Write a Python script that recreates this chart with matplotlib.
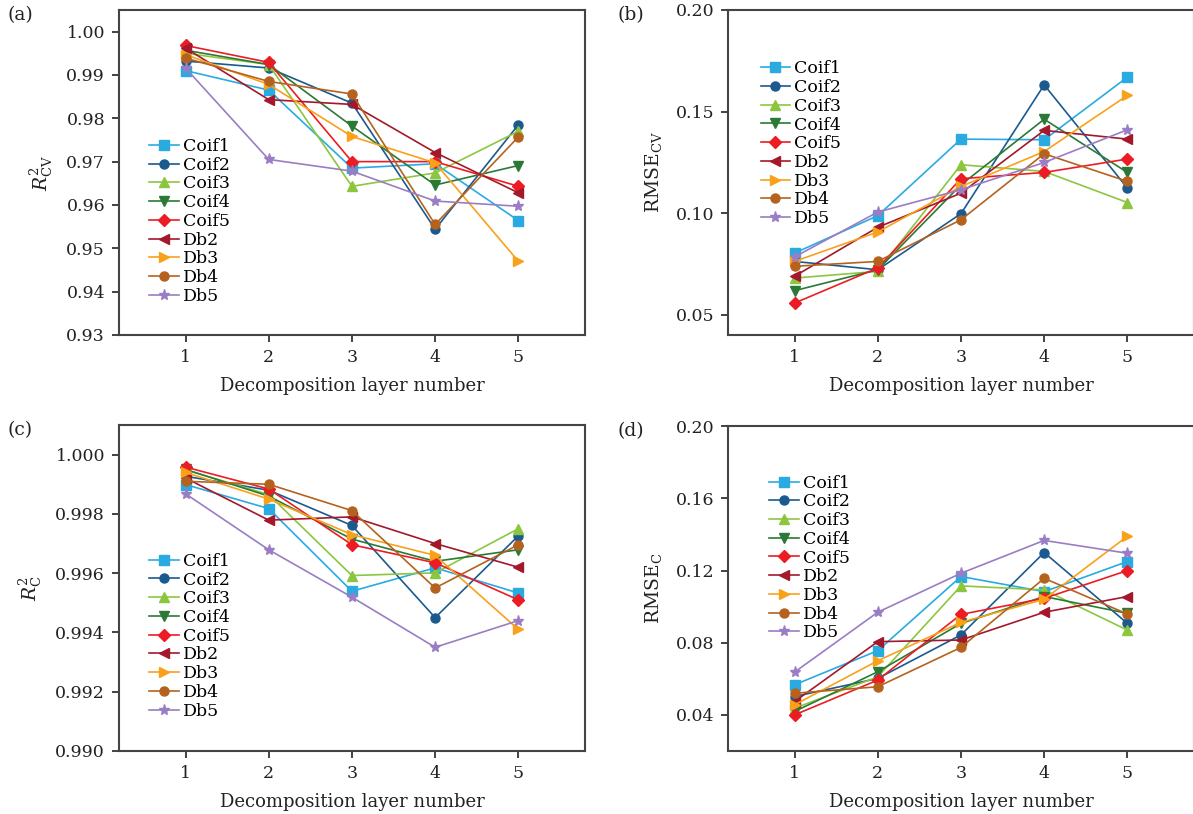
import matplotlib
matplotlib.use('Agg')
import matplotlib.pyplot as plt

plt.rcParams['font.family'] = ['DejaVu Serif']
plt.rcParams['mathtext.fontset'] = 'dejavuserif'

layers = [1, 2, 3, 4, 5]
names = ['Coif1', 'Coif2', 'Coif3', 'Coif4', 'Coif5', 'Db2', 'Db3', 'Db4', 'Db5']
colors = ['#29abe2', '#1b5a8e', '#8cc63f', '#2a7a35', '#ec1c24',
          '#a3182b', '#f9a11b', '#b5621e', '#9a7dc4']
markers = ['s', 'o', '^', 'v', 'D', '<', '>', 'o', '*']

# (a) R2_CV
r2cv = [
    [0.9910, 0.9865, 0.9685, 0.9695, 0.9564],
    [0.9932, 0.9916, 0.9835, 0.9544, 0.9785],
    [0.9950, 0.9924, 0.9643, 0.9674, 0.9770],
    [0.9957, 0.9924, 0.9782, 0.9646, 0.9691],
    [0.9968, 0.9929, 0.9700, 0.9700, 0.9643],
    [0.9962, 0.9843, 0.9832, 0.9721, 0.9628],
    [0.9947, 0.9878, 0.9758, 0.9697, 0.9470],
    [0.9939, 0.9885, 0.9856, 0.9555, 0.9757],
    [0.9916, 0.9705, 0.9678, 0.9609, 0.9597],
]
# (b) RMSE_CV
rmsecv = [
    [0.0803, 0.0987, 0.1364, 0.1361, 0.1669],
    [0.0762, 0.0721, 0.0997, 0.1631, 0.1123],
    [0.0680, 0.0713, 0.1238, 0.1205, 0.1052],
    [0.0618, 0.0721, 0.1139, 0.1462, 0.1200],
    [0.0557, 0.0730, 0.1169, 0.1200, 0.1266],
    [0.0689, 0.0930, 0.1098, 0.1407, 0.1364],
    [0.0762, 0.0907, 0.1131, 0.1303, 0.1579],
    [0.0738, 0.0762, 0.0967, 0.1292, 0.1156],
    [0.0784, 0.1005, 0.1115, 0.1249, 0.1410],
]
# (c) R2_C
r2c = [
    [0.99899, 0.99818, 0.99539, 0.99618, 0.99533],
    [0.99927, 0.99880, 0.99761, 0.99450, 0.99726],
    [0.99949, 0.99865, 0.99592, 0.99601, 0.99750],
    [0.99950, 0.99860, 0.99715, 0.99640, 0.99679],
    [0.99958, 0.99884, 0.99696, 0.99635, 0.99510],
    [0.99921, 0.99779, 0.99790, 0.99700, 0.99620],
    [0.99940, 0.99850, 0.99730, 0.99660, 0.99410],
    [0.99910, 0.99900, 0.99811, 0.99550, 0.99696],
    [0.99868, 0.99679, 0.99519, 0.99350, 0.99440],
]
# (d) RMSE_C
rmsec = [
    [0.0567, 0.0756, 0.1167, 0.1083, 0.1250],
    [0.0502, 0.0602, 0.0843, 0.1300, 0.0907],
    [0.0437, 0.0611, 0.1115, 0.1093, 0.0870],
    [0.0419, 0.0639, 0.0907, 0.1056, 0.0963],
    [0.0400, 0.0593, 0.0957, 0.1046, 0.1200],
    [0.0474, 0.0806, 0.0815, 0.0969, 0.1056],
    [0.0456, 0.0700, 0.0913, 0.1041, 0.1390],
    [0.0520, 0.0556, 0.0774, 0.1157, 0.0959],
    [0.0637, 0.0969, 0.1185, 0.1367, 0.1296],
]

fig = plt.figure(figsize=(11.93, 8.14), dpi=100)

panels = [
    ([0.0997, 0.5885, 0.3906, 0.3993], r2cv, r'$R^2_{\mathrm{CV}}$', (0.93, 1.005),
     [0.93, 0.94, 0.95, 0.96, 0.97, 0.98, 0.99, 1.00], '%.2f', '(a)', (0.065, 0.606)),
    ([0.6102, 0.5885, 0.3906, 0.3993], rmsecv, r'RMSE$_{\mathrm{CV}}$', (0.04, 0.20),
     [0.05, 0.10, 0.15, 0.20], '%.2f', '(b)', (0.070, 0.845)),
    ([0.0997, 0.0774, 0.3906, 0.4005], r2c, r'$R^2_{\mathrm{C}}$', (0.990, 1.001),
     [0.990, 0.992, 0.994, 0.996, 0.998, 1.000], '%.3f', '(c)', (0.065, 0.608)),
    ([0.6102, 0.0774, 0.3906, 0.3990], rmsec, r'RMSE$_{\mathrm{C}}$', (0.02, 0.20),
     [0.04, 0.08, 0.12, 0.16, 0.20], '%.2f', '(d)', (0.089, 0.851)),
]

for rect, data, ylab, ylim, yticks, fmt, tag, leg in panels:
    ax = fig.add_axes(rect)
    for i in range(len(names)):
        ax.plot(layers, data[i], color=colors[i], marker=markers[i],
                markersize=8 if markers[i] == '*' else 6.5, linewidth=1.2,
                label=names[i])
    ax.set_xlim(0.2, 5.8)
    ax.set_ylim(*ylim)
    ax.set_xticks(layers)
    ax.set_yticks(yticks)
    ax.set_yticklabels([fmt % v for v in yticks])
    ax.tick_params(direction='out', length=5, width=1.2, labelsize=12.5, pad=5,
                   top=False, right=False, colors='#222222', labelcolor='#222222')
    for s in ax.spines.values():
        s.set_linewidth(1.5)
        s.set_color('#444444')
    ax.set_xlabel('Decomposition layer number', fontsize=13, color='#222222', labelpad=8)
    ax.set_ylabel(ylab, fontsize=13.5, color='#222222', labelpad=8)
    ax.legend(loc='upper left', bbox_to_anchor=leg, frameon=False, fontsize=12.5,
              handlelength=1.7, handletextpad=0.25, labelspacing=0.10,
              borderpad=0.0, borderaxespad=0.0)
    fig.text(rect[0] - 0.093, rect[1] + rect[3] - 0.012, tag, fontsize=13.5, color='#222222')

plt.savefig('out.png', dpi=100)
